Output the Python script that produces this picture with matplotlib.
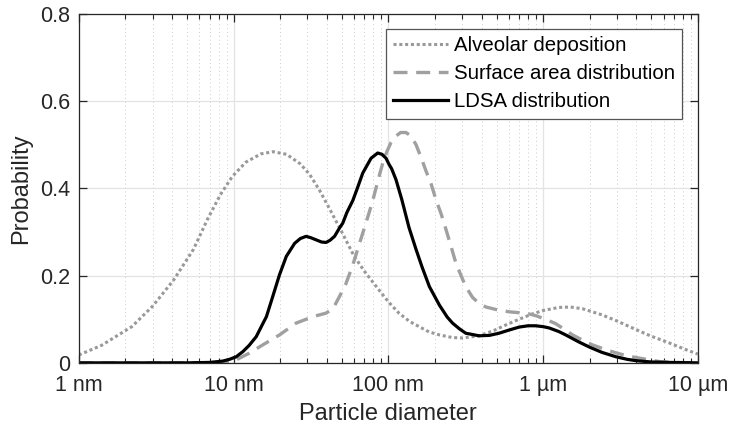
import numpy as np
import matplotlib
matplotlib.use('Agg')
import matplotlib.pyplot as plt
from matplotlib.ticker import LogLocator, NullFormatter

plt.rcParams['font.family'] = ['Liberation Sans', 'DejaVu Sans']

# particle diameters in nm and probability values for each curve
alv_d = [1, 1.4, 2.2, 3, 4.1, 5.5, 6.8, 8.2, 9.8, 12, 15, 18, 22, 27, 31, 36,
         42, 50, 60, 70, 87, 100, 117, 137, 158, 183, 214, 259, 300, 386, 480,
         575, 700, 851, 1000, 1259, 1500, 1800, 2400, 3000, 4000, 5000, 6500,
         8000, 10000]
alv_p = [0.018, 0.040, 0.083, 0.13, 0.19, 0.26, 0.33, 0.385, 0.427, 0.46,
         0.479, 0.484, 0.478, 0.456, 0.432, 0.395, 0.351, 0.30, 0.245, 0.21,
         0.167, 0.14, 0.114, 0.095, 0.083, 0.071, 0.064, 0.058, 0.057, 0.062,
         0.074, 0.087, 0.10, 0.112, 0.12, 0.127, 0.128, 0.124, 0.11, 0.096,
         0.076, 0.061, 0.046, 0.033, 0.02]

surf_d = [1, 8, 9.5, 10.4, 12.6, 15.4, 19.8, 25.3, 32.6, 39.6, 44, 48.3, 53,
          59, 66.6, 73, 79, 86, 92, 98, 104, 112, 120, 130, 140, 151, 163, 175,
          189, 203, 220, 236, 255, 273, 295, 316, 350, 386, 427, 500, 603, 700,
          813, 900, 1000, 1100, 1203, 1400, 1549, 1800, 2089, 2500, 2951, 3500,
          4169, 5000, 5623, 7000, 10000]
surf_p = [0, 0, 0.002, 0.007, 0.022, 0.041, 0.064, 0.091, 0.106, 0.114, 0.125,
          0.152, 0.18, 0.225, 0.285, 0.33, 0.37, 0.42, 0.458, 0.485, 0.505,
          0.52, 0.528, 0.528, 0.52, 0.50, 0.47, 0.44, 0.41, 0.374, 0.34, 0.305,
          0.265, 0.229, 0.20, 0.175, 0.15, 0.136, 0.128, 0.122, 0.117, 0.115,
          0.112, 0.108, 0.102, 0.096, 0.090, 0.075, 0.064, 0.052, 0.041, 0.031,
          0.023, 0.016, 0.011, 0.006, 0.003, 0.001, 0]

ldsa_d = [1, 5, 7, 8.5, 9.4, 10.4, 11.5, 12.6, 14, 15.2, 16.3, 17.9, 19.8,
          21.9, 24.8, 27, 29.4, 31.5, 34.1, 37, 39.6, 42, 44.9, 48.3, 50.7, 54,
          58.9, 63, 68.3, 77.3, 85.3, 91, 96.6, 101, 105, 112, 122, 136, 151,
          165, 184, 214, 240, 260, 288, 316, 386, 450, 520, 600, 700, 800, 893,
          1000, 1094, 1259, 1400, 1700, 1995, 2400, 2951, 3500, 3981, 5000,
          6500, 10000]
ldsa_p = [0, 0, 0.001, 0.004, 0.008, 0.014, 0.026, 0.04, 0.06, 0.085, 0.106,
          0.152, 0.202, 0.244, 0.274, 0.285, 0.290, 0.287, 0.282, 0.277, 0.276,
          0.281, 0.290, 0.309, 0.320, 0.345, 0.372, 0.40, 0.435, 0.469, 0.481,
          0.478, 0.469, 0.455, 0.445, 0.42, 0.375, 0.31, 0.26, 0.22, 0.175,
          0.132, 0.105, 0.091, 0.078, 0.068, 0.062, 0.063, 0.068, 0.075, 0.082,
          0.085, 0.085, 0.083, 0.080, 0.072, 0.064, 0.048, 0.036, 0.024, 0.014,
          0.008, 0.005, 0.002, 0.001, 0]

xtick_vals = [1, 10, 100, 1000, 10000]
xtick_labels = ['1 nm', '10 nm', '100 nm', '1 µm', '10 µm']
ytick_vals = [0, 0.2, 0.4, 0.6, 0.8]
ytick_labels = ['0', '0.2', '0.4', '0.6', '0.8']

fig = plt.figure(figsize=(7.3, 4.33), dpi=100)
ax = fig.add_axes([0.108, 0.162, 0.848, 0.806])

ax.plot(alv_d, alv_p, linestyle=(0, (1, 0.9)), color='#999999', lw=2.2,
        label='Alveolar deposition')
ax.plot(surf_d, surf_p, linestyle=(0, (4.2, 2.6)), color='#a0a0a0', lw=2.4,
        label='Surface area distribution')
ax.plot(ldsa_d, ldsa_p, '-', color='black', lw=2.3, label='LDSA distribution')

ax.set_xscale('log')
ax.set_xlim(1, 10000)
ax.set_ylim(0, 0.8)
ax.set_xticks(xtick_vals)
ax.set_xticklabels(xtick_labels)
ax.xaxis.set_minor_locator(LogLocator(base=10, subs=np.arange(2, 10)))
ax.xaxis.set_minor_formatter(NullFormatter())
ax.set_yticks(ytick_vals)
ax.set_yticklabels(ytick_labels)

ax.grid(True, which='major', color='#e3e3e3', lw=0.9, ls='-')
ax.grid(True, which='minor', axis='x', color='#cccccc', lw=0.7, ls=(0, (1, 3)))
ax.set_axisbelow(True)

for s in ax.spines.values():
    s.set_color('#262626')
    s.set_linewidth(0.9)
ax.tick_params(which='both', direction='in', top=True, right=True,
               colors='#262626', labelsize=15.5)
ax.tick_params(which='major', length=6, width=0.9)
ax.tick_params(which='minor', length=3.5, width=0.8)
ax.tick_params(axis='x', which='major', pad=9)
ax.tick_params(axis='y', which='major', pad=6)
for lab in ax.get_xticklabels() + ax.get_yticklabels():
    lab.set_color('#262626')

ax.set_xlabel('Particle diameter', fontsize=17, color='#262626', labelpad=5)
ax.set_ylabel('Probability', fontsize=17, color='#262626', labelpad=6)

leg = ax.legend(loc='upper right', bbox_to_anchor=(0.974, 0.957),
                borderaxespad=0, fontsize=14.7, handlelength=2.7,
                handletextpad=0.25, labelspacing=0.45, borderpad=0.35,
                fancybox=False, framealpha=1, edgecolor='#555555')
leg.get_frame().set_linewidth(0.9)

fig.savefig('out.png', dpi=100)
